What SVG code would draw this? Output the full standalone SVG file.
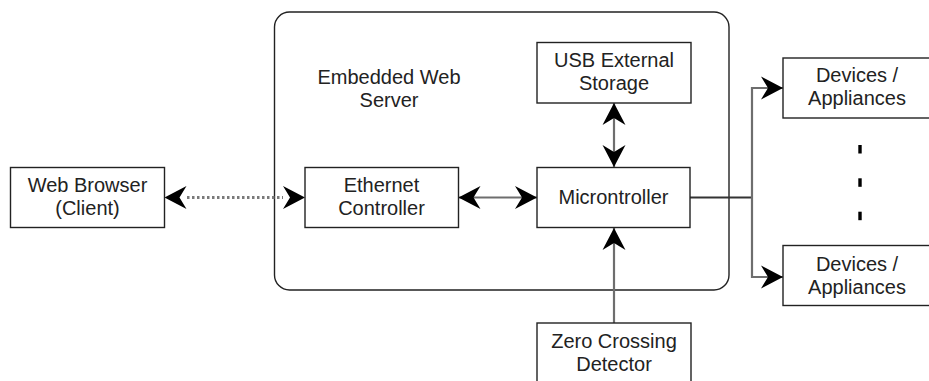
<svg xmlns="http://www.w3.org/2000/svg" width="929" height="381" viewBox="0 0 929 381">
  <style>
    .box { fill: #ffffff; stroke: #222222; stroke-width: 1.4; }
    .label { font-family: "Liberation Sans", Arial, sans-serif; font-size: 20px; fill: #222222; text-anchor: middle; }
    .link { fill: none; stroke: #6e6e6e; stroke-width: 2.2; }
    .dark { stroke: #333333; }
    .dotted { stroke-dasharray: 2.5 2.5; stroke-width: 3; stroke: #7a7a7a; }
  </style>
  <defs>
    <marker id="arrow" viewBox="-23 -12 24 24" refX="0" refY="0" markerWidth="24" markerHeight="24" markerUnits="userSpaceOnUse" orient="auto-start-reverse">
      <path d="M0,0 L-22,-11.5 L-15,0 L-22,11.5 Z" fill="#000000"/>
    </marker>
  </defs>

  <rect width="929" height="381" fill="#ffffff"/>

  <!-- server enclosure -->
  <g id="server">
    <rect class="box" x="274.5" y="12" width="454.5" height="278" rx="15" ry="15" fill="none"/>
    <text class="label" x="389" y="84">Embedded Web</text>
    <text class="label" x="389" y="107">Server</text>
  </g>

  <!-- connectors -->
  <g id="connectors">
    <line class="link dotted" x1="187" y1="197.5" x2="283" y2="197.5"/>
    <path d="M0,0 L-22,-11.5 L-15,0 L-22,11.5 Z" fill="#000" transform="translate(164.5,197.5) rotate(180)"/>
    <path d="M0,0 L-22,-11.5 L-15,0 L-22,11.5 Z" fill="#000" transform="translate(305,197.5)"/>
    <line class="link" x1="458.5" y1="197.5" x2="537" y2="197.5" marker-start="url(#arrow)" marker-end="url(#arrow)"/>
    <line class="link" x1="614" y1="103" x2="614" y2="167" marker-start="url(#arrow)" marker-end="url(#arrow)"/>
    <line class="link" x1="614" y1="323" x2="614" y2="228" marker-end="url(#arrow)"/>
    <line class="link dark" x1="690" y1="197.5" x2="752" y2="197.5"/>
    <polyline class="link" points="783,88 752,88 752,277 783,277" marker-start="url(#arrow)" marker-end="url(#arrow)"/>
  </g>

  <g id="web-browser">
    <rect class="box" x="10.5" y="167.5" width="154" height="60"/>
    <text class="label" x="87.5" y="192">Web Browser</text>
    <text class="label" x="87.5" y="215">(Client)</text>
  </g>

  <g id="ethernet-controller">
    <rect class="box" x="305" y="167.5" width="153.5" height="60"/>
    <text class="label" x="381.5" y="192">Ethernet</text>
    <text class="label" x="381.5" y="215">Controller</text>
  </g>

  <g id="microcontroller">
    <rect class="box" x="537" y="167.5" width="153" height="60"/>
    <text class="label" x="613.5" y="204">Microntroller</text>
  </g>

  <g id="usb-storage">
    <rect class="box" x="537" y="42.5" width="154" height="60.5"/>
    <text class="label" x="614" y="67">USB External</text>
    <text class="label" x="614" y="90">Storage</text>
  </g>

  <g id="zero-crossing">
    <rect class="box" x="537" y="323" width="154" height="62"/>
    <text class="label" x="614" y="348">Zero Crossing</text>
    <text class="label" x="614" y="371">Detector</text>
  </g>

  <g id="devices-1">
    <rect class="box" x="783" y="58" width="150" height="60"/>
    <text class="label" x="857" y="82">Devices /</text>
    <text class="label" x="857" y="105">Appliances</text>
  </g>

  <g id="devices-2">
    <rect class="box" x="783" y="245.5" width="150" height="60"/>
    <text class="label" x="857" y="271">Devices /</text>
    <text class="label" x="857" y="294">Appliances</text>
  </g>

  <!-- ellipsis between device boxes -->
  <g id="ellipsis" fill="#000000">
    <rect x="858.3" y="145" width="3.4" height="8.5"/>
    <rect x="858.3" y="178.3" width="3.4" height="8.5"/>
    <rect x="858.3" y="211.7" width="3.4" height="8.5"/>
  </g>
</svg>
